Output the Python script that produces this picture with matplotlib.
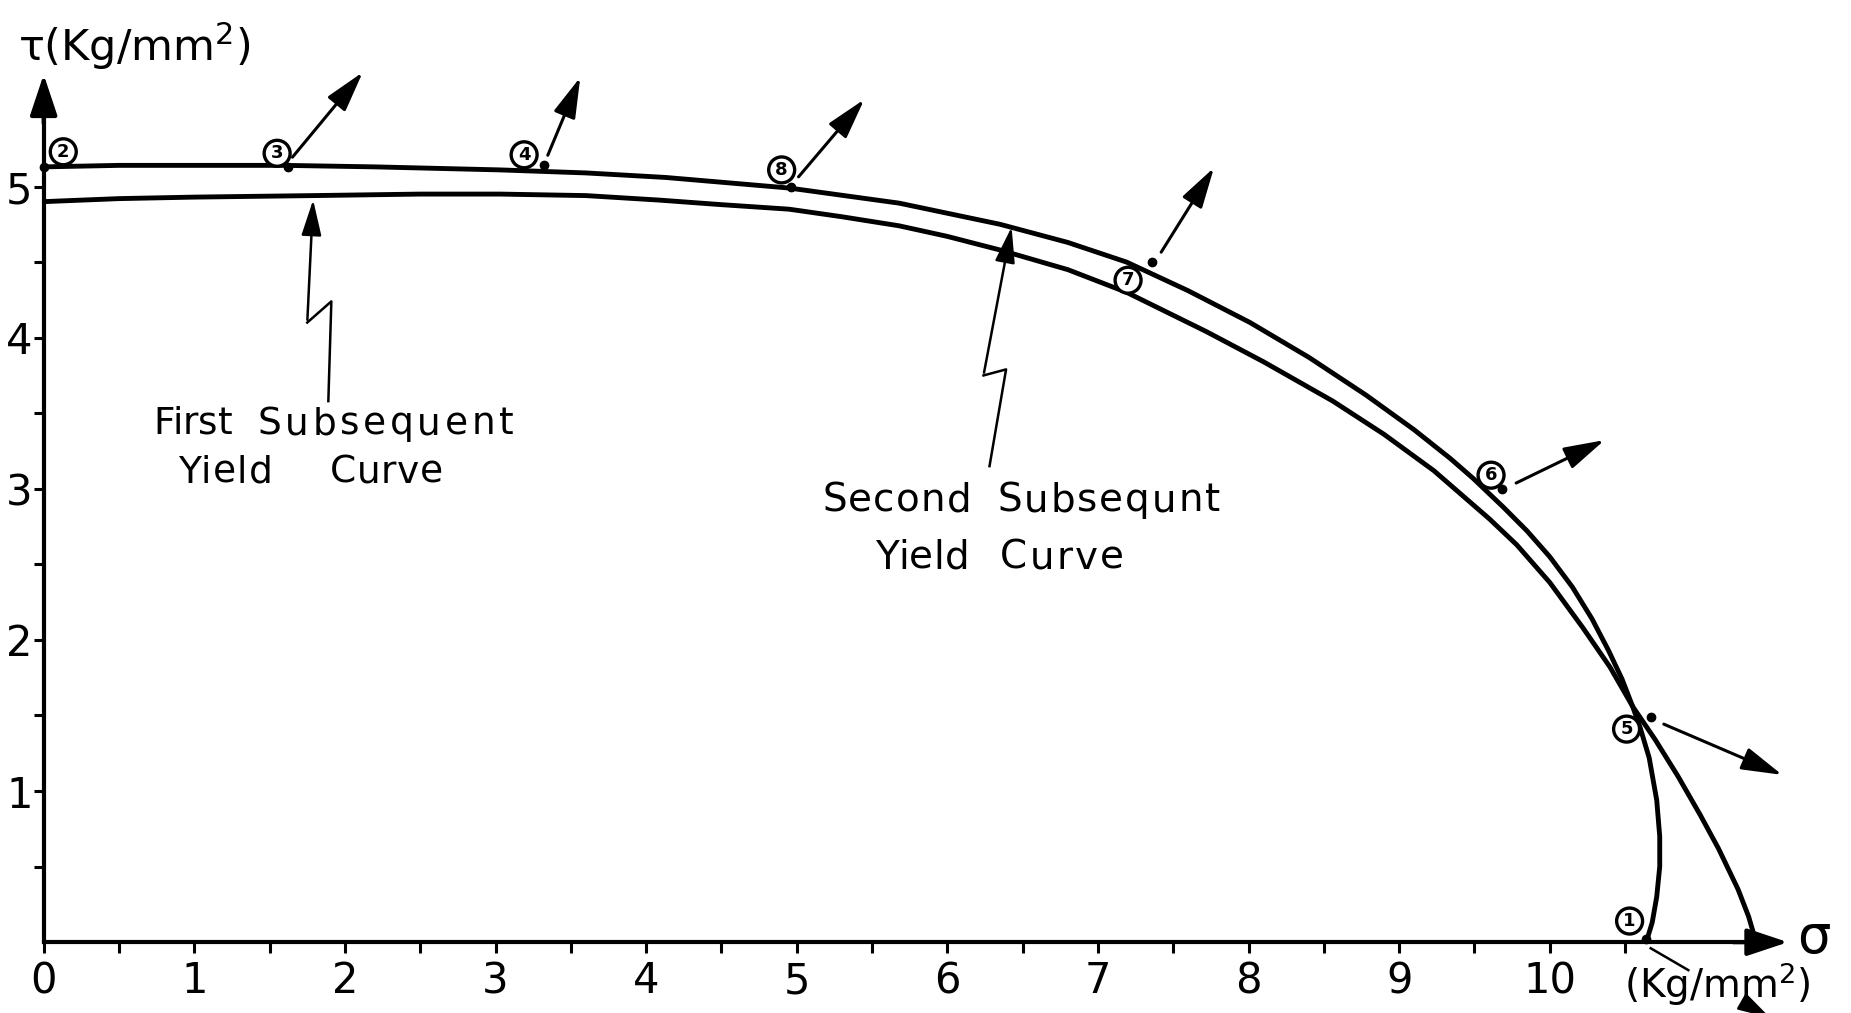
import numpy as np
import matplotlib.pyplot as plt
from matplotlib.textpath import TextToPath
from matplotlib.font_manager import FontProperties

# second subsequent yield curve (outer one at the top, ends at point 1)
sig2 = [0, 0.5, 1.0, 1.6, 2.2, 3.03, 3.6, 4.13, 4.95, 5.68, 6.35, 6.8, 7.19, 7.6, 8.01, 8.4,
        8.78, 9.1, 9.34, 9.49, 9.69, 9.85, 10.0, 10.15, 10.28, 10.39, 10.48, 10.55, 10.60,
        10.66, 10.71, 10.73, 10.73, 10.71, 10.68, 10.64]
tau2 = [5.13, 5.14, 5.14, 5.14, 5.13, 5.11, 5.09, 5.06, 4.99, 4.89, 4.75, 4.63, 4.50, 4.31, 4.10, 3.87,
        3.62, 3.39, 3.20, 3.07, 2.88, 2.72, 2.55, 2.35, 2.14, 1.93, 1.74, 1.56, 1.42,
        1.22, 0.94, 0.70, 0.50, 0.30, 0.13, 0.0]

# first subsequent yield curve
sig1 = [0, 0.5, 1.0, 1.79, 2.5, 3.03, 3.6, 4.09, 4.5, 4.95, 5.3, 5.68, 6.0, 6.35, 6.8, 7.19,
        7.72, 8.1, 8.56, 8.9, 9.23, 9.6, 9.78, 10.0, 10.22, 10.4, 10.55, 10.7, 10.85, 11.0,
        11.12, 11.25, 11.32, 11.37]
tau1 = [4.90, 4.92, 4.93, 4.94, 4.95, 4.95, 4.94, 4.91, 4.88, 4.85, 4.80, 4.74, 4.67, 4.58, 4.45, 4.30,
        4.04, 3.84, 3.58, 3.36, 3.12, 2.80, 2.63, 2.38, 2.08, 1.82, 1.56, 1.34, 1.10, 0.84,
        0.62, 0.35, 0.17, 0.0]

# loading points: label, dot position, label position
pt_labels = ['2', '3', '4', '8', '7', '6', '5', '1']
pt_sig = [0.0, 1.62, 3.32, 4.96, 7.36, 9.68, 10.67, 10.64]
pt_tau = [5.13, 5.13, 5.14, 5.00, 4.50, 3.00, 1.49, 0.02]
lab_sig = [0.13, 1.55, 3.19, 4.90, 7.20, 9.61, 10.51, 10.53]
lab_tau = [5.23, 5.22, 5.21, 5.11, 4.38, 3.09, 1.41, 0.14]

# loading directions
arr_start = [(1.64, 5.18), (3.34, 5.19), (5.00, 5.05), (7.41, 4.55), (9.76, 3.03), (10.74, 1.45)]
arr_end = [(2.13, 5.77), (3.57, 5.74), (5.46, 5.59), (7.78, 5.14), (10.38, 3.33), (11.56, 1.10)]

xticks = list(range(0, 11))
yticks = [1, 2, 3, 4, 5]

fig = plt.figure(figsize=(18.51, 10.13), dpi=100)
ax = fig.add_axes([0.0236, 0.0699, 0.9764, 0.925])
ax.set_xlim(0, 12)
ax.set_ylim(0, 6.2)
px_per_unit = 0.9764 * 1851 / 12

lw = 3.5
ax.plot(sig2, tau2, color='black', lw=lw, solid_capstyle='round', solid_joinstyle='round')
ax.plot(sig1, tau1, color='black', lw=lw, solid_capstyle='round', solid_joinstyle='round')

# axes with arrows
for s in ['top', 'right']:
    ax.spines[s].set_visible(False)
ax.spines['left'].set_linewidth(3)
ax.spines['bottom'].set_linewidth(3)
ax.spines['left'].set_bounds(0, 5.6)
ax.spines['bottom'].set_bounds(0, 11.4)
ax.annotate('', xy=(11.6, 0), xytext=(11.2, 0),
            arrowprops=dict(arrowstyle='-|>,head_length=0.9,head_width=0.3', color='black', lw=3,
                            mutation_scale=28))
ax.annotate('', xy=(0, 5.76), xytext=(0, 5.4),
            arrowprops=dict(arrowstyle='-|>,head_length=0.9,head_width=0.3', color='black', lw=3,
                            mutation_scale=28))

ax.set_xticks(xticks)
ax.set_xticks(np.arange(0.5, 11.5, 1.0), minor=True)
ax.set_yticks(yticks)
ax.set_yticks(np.arange(0.5, 5.5, 1.0), minor=True)
ax.tick_params(axis='both', which='both', direction='out', width=2.2, labelsize=30)
ax.tick_params(axis='x', which='both', length=8, pad=5)
ax.tick_params(axis='y', which='both', length=7, pad=1)

# loading points
ax.plot(pt_sig, pt_tau, 'o', color='black', ms=6, clip_on=False)
for lab, x, y in zip(pt_labels, lab_sig, lab_tau):
    ax.text(x, y, lab, fontsize=13, fontweight='bold', ha='center', va='center',
            bbox=dict(boxstyle='circle,pad=0.22', fc='white', ec='black', lw=2.4))

head = '-|>,head_length=1.0,head_width=0.28'
for (x0, y0), (x1, y1) in zip(arr_start, arr_end):
    ax.annotate('', xy=(x1, y1), xytext=(x0, y0), annotation_clip=False,
                arrowprops=dict(arrowstyle=head, color='black', lw=2.2, mutation_scale=25))
ax.plot([10.67, 10.92], [-0.04, -0.185], color='black', lw=1.8, clip_on=False)
ax.annotate('', xy=(11.48, -0.51), xytext=(11.27, -0.39), annotation_clip=False,
            arrowprops=dict(arrowstyle=head, color='black', lw=1.8, mutation_scale=20))

# zigzag pointers to the curves
ax.plot([1.89, 1.91, 1.75], [3.58, 4.24, 4.10], color='black', lw=1.8)
ax.annotate('', xy=(1.79, 4.93), xytext=(1.75, 4.10),
            arrowprops=dict(arrowstyle=head, color='black', lw=1.8, mutation_scale=22))
ax.plot([6.28, 6.39, 6.24], [3.15, 3.79, 3.75], color='black', lw=1.8)
ax.annotate('', xy=(6.43, 4.75), xytext=(6.24, 3.75),
            arrowprops=dict(arrowstyle=head, color='black', lw=1.8, mutation_scale=22))

# lettering is widely spaced in the original, so words are tracked out to their width
t2p = TextToPath()


def tracked(x, y, word, width, size):
    prop = FontProperties(family='DejaVu Sans', size=size)
    w = lambda s: t2p.get_text_width_height_descent(s, prop, ismath=False)[0]
    target = width * px_per_unit * 0.72
    extra = max((target - w(word)) / max(len(word) - 1, 1), 0)
    for i, ch in enumerate(word):
        off = w(word[:i + 1]) - w(ch) + i * extra if i > 0 else 0
        ax.annotate(ch, xy=(x, y), xytext=(off, 0), textcoords='offset points',
                    fontsize=size, ha='left', va='baseline', family='DejaVu Sans')


tracked(0.73, 3.36, 'First', 0.52, 27)
tracked(1.42, 3.36, 'Subsequent', 1.70, 27)
tracked(0.89, 3.04, 'Yield', 0.63, 27)
tracked(1.90, 3.04, 'Curve', 0.75, 27)
tracked(5.17, 2.85, 'Second', 0.99, 28)
tracked(6.33, 2.85, 'Subsequnt', 1.48, 28)
tracked(5.52, 2.47, 'Yield', 0.63, 28)
tracked(6.35, 2.47, 'Curve', 0.82, 28)

ax.text(-0.17, 5.83, 'τ(Kg/mm$^2$)', fontsize=31, va='baseline', clip_on=False)
ax.text(10.49, -0.37, '(Kg/mm$^2$)', fontsize=28, va='baseline', clip_on=False)
ax.text(11.64, -0.07, 'σ', fontsize=38, va='baseline', clip_on=False)

fig.savefig('out.png', dpi=100)
